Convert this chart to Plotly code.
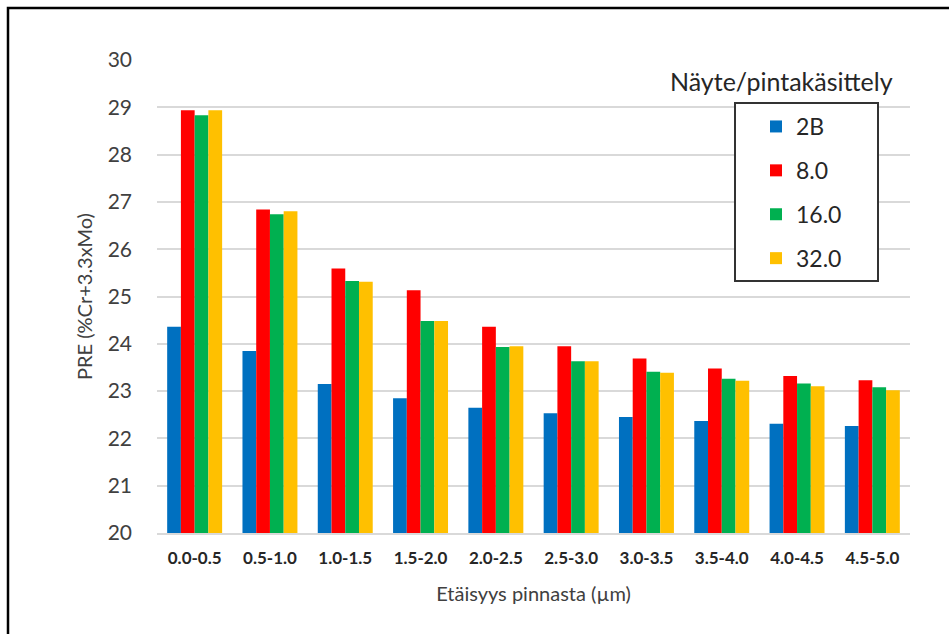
import plotly.graph_objects as go

categories = ["0.0-0.5", "0.5-1.0", "1.0-1.5", "1.5-2.0", "2.0-2.5",
              "2.5-3.0", "3.0-3.5", "3.5-4.0", "4.0-4.5", "4.5-5.0"]
series_names = ["2B", "8.0", "16.0", "32.0"]
vals_2B = [24.36, 23.85, 23.15, 22.85, 22.65, 22.53, 22.45, 22.37, 22.31, 22.26]
vals_8 = [28.94, 26.84, 25.59, 25.13, 24.36, 23.95, 23.69, 23.48, 23.32, 23.23]
vals_16 = [28.83, 26.74, 25.33, 24.48, 23.93, 23.63, 23.41, 23.26, 23.16, 23.08]
vals_32 = [28.94, 26.80, 25.31, 24.48, 23.95, 23.63, 23.39, 23.22, 23.10, 23.02]
colors = ["#0070C0", "#FF0000", "#00B050", "#FFC000"]
y_ticks = [20, 21, 22, 23, 24, 25, 26, 27, 28, 29, 30]

W, H = 949, 634
L, R, T, B = 157, 39, 60, 101
pw, ph = W - L - R, H - T - B

def px_x(p):
    return (p - L) / pw

def px_y(p):
    return (H - B - p) / ph

FONT = "Lato"

fig = go.Figure()
for i, (name, vals) in enumerate(zip(series_names, [vals_2B, vals_8, vals_16, vals_32])):
    fig.add_trace(go.Bar(x=categories, y=vals, name=name, marker_color=colors[i],
                         marker_line_width=0, legendgroup=name))

fig.update_layout(
    width=W, height=H,
    margin=dict(l=L, r=R, t=T, b=B),
    paper_bgcolor="white", plot_bgcolor="white",
    barmode="group", bargap=0.27, bargroupgap=0,
    font=dict(family=FONT, color="#404040"),
    showlegend=True,
    legend=dict(x=px_x(756), y=px_y(105), xanchor="left", yanchor="top",
                bgcolor="rgba(0,0,0,0)", borderwidth=0,
                font=dict(size=23, family=FONT, color="#262626"),
                tracegroupgap=11, traceorder="grouped"),
    xaxis=dict(showgrid=False, showline=True, linecolor="#d9d9d9", linewidth=1.5,
               ticks="", ticklabelstandoff=9,
               tickfont=dict(size=17, family=FONT, color="#262626", weight="bold"),
               title=dict(text="Etäisyys pinnasta (µm)", font=dict(size=20, family=FONT, color="#404040"),
                          standoff=20)),
    yaxis=dict(range=[20, 30], tickvals=y_ticks, showgrid=True, gridcolor="#d9d9d9", gridwidth=1.5,
               zeroline=False, showline=False, ticks="", ticklabelstandoff=24,
               tickfont=dict(size=21, family=FONT, color="#404040"),
               title=dict(text="PRE (%Cr+3.3xMo)", font=dict(size=20, family=FONT, color="#404040"),
                          standoff=9)),
    shapes=[
        dict(type="rect", xref="paper", yref="paper",
             x0=px_x(8), x1=px_x(970), y0=px_y(660), y1=px_y(8),
             line=dict(color="black", width=2.5), fillcolor="rgba(0,0,0,0)", layer="above"),
        dict(type="rect", xref="paper", yref="paper",
             x0=px_x(735), x1=px_x(878), y0=px_y(281), y1=px_y(103),
             line=dict(color="#333333", width=2), fillcolor="white", layer="above"),
    ],
    annotations=[
        dict(text="Näyte/pintakäsittely", xref="paper", yref="paper",
             x=px_x(895), y=px_y(81), xanchor="right", yanchor="middle", showarrow=False,
             font=dict(size=25, family=FONT, color="#262626")),
    ],
)

fig.write_html("out.html", config={"displayModeBar": False},
               post_script="document.body.style.margin='0';")
